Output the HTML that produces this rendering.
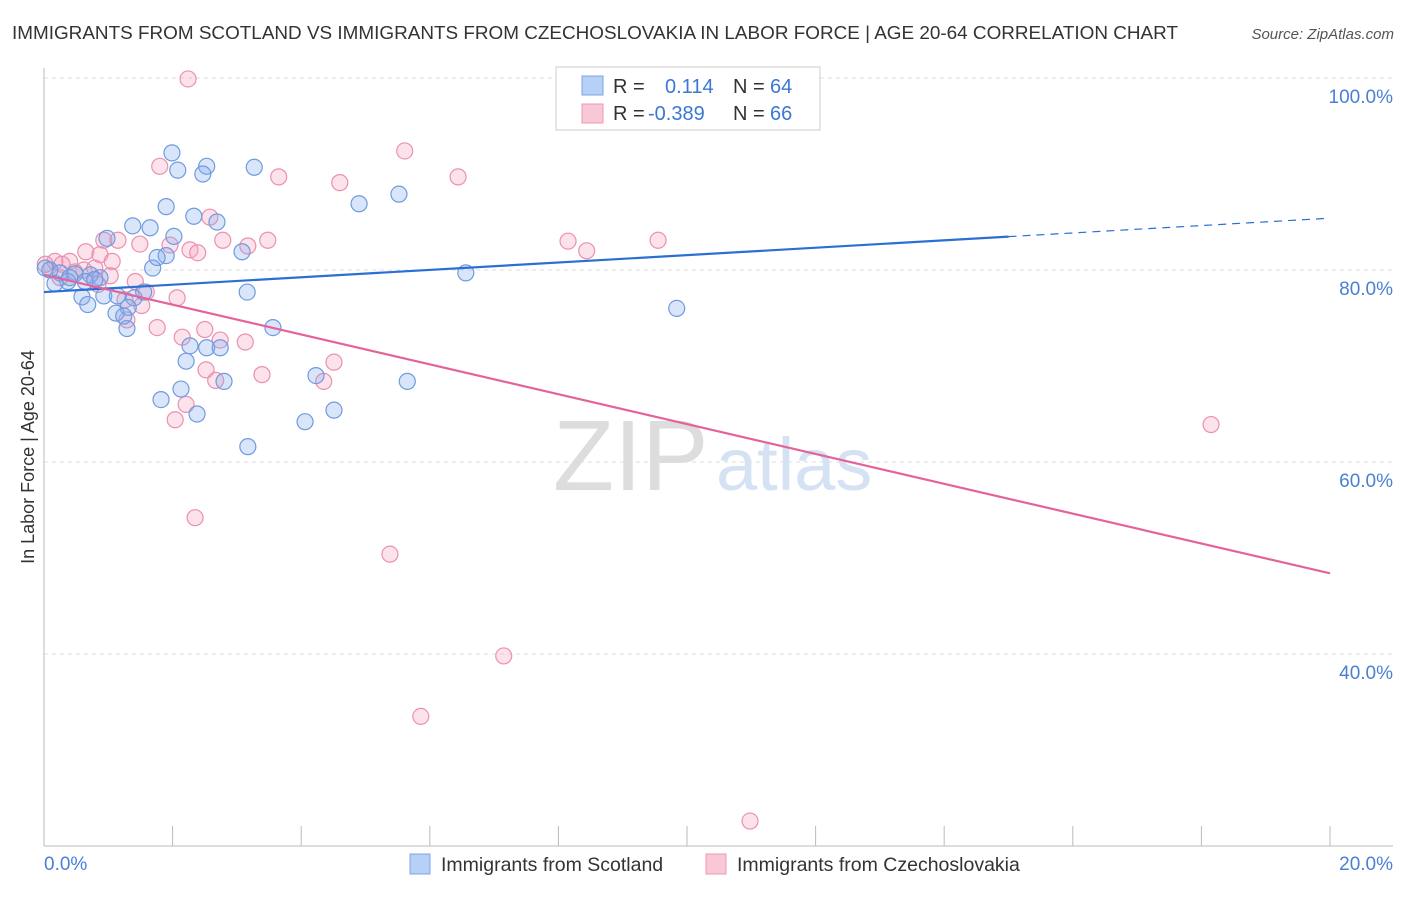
<!DOCTYPE html>
<html><head><meta charset="utf-8"><style>
body{margin:0;background:#fff;font-family:"Liberation Sans",sans-serif}
svg text{font-family:"Liberation Sans",sans-serif}
</style></head><body>
<svg width="1406" height="892" viewBox="0 0 1406 892" xmlns="http://www.w3.org/2000/svg">
<text x="12" y="39" font-size="18.5" fill="#333" textLength="1166" lengthAdjust="spacingAndGlyphs">IMMIGRANTS FROM SCOTLAND VS IMMIGRANTS FROM CZECHOSLOVAKIA IN LABOR FORCE | AGE 20-64 CORRELATION CHART</text>
<text x="1394" y="39" font-size="15" fill="#555" text-anchor="end" font-style="italic">Source: ZipAtlas.com</text>
<g id="grid"></g>
<text x="553" y="490" font-size="100" fill="#ddd" font-family="Liberation Serif">ZIP</text>
<text x="716" y="490" font-size="74" fill="#d4e2f4">atlas</text>
<g id="marks"></g>
<text transform="translate(34,457) rotate(-90)" font-size="18" fill="#333" text-anchor="middle">In Labor Force | Age 20-64</text>
<text x="44" y="870" font-size="19" fill="#4a7fd4">0.0%</text>
<text x="1393" y="870" font-size="19" fill="#4a7fd4" text-anchor="end">20.0%</text>
<g>
<rect x="556" y="67" width="264" height="63" fill="#fff" stroke="#ccc"/>
<rect x="582" y="76" width="21" height="19" fill="#b7d0f5" stroke="#7aa5e6"/>
<rect x="582" y="104" width="21" height="19" fill="#f9c8d6" stroke="#ee9ab2"/>
<text x="613" y="93" font-size="20" fill="#333">R =</text>
<text x="665" y="93" font-size="20" fill="#3a78d4">0.114</text>
<text x="733" y="93" font-size="20" fill="#333">N =</text>
<text x="770" y="93" font-size="20" fill="#3a78d4">64</text>
<text x="613" y="120" font-size="20" fill="#333">R =</text>
<text x="648" y="120" font-size="20" fill="#3a78d4">-0.389</text>
<text x="733" y="120" font-size="20" fill="#333">N =</text>
<text x="770" y="120" font-size="20" fill="#3a78d4">66</text>
</g>
<g>
<rect x="410" y="854" width="20" height="20" fill="#b7d0f5" stroke="#7aa5e6"/>
<text x="441" y="871" font-size="19.5" fill="#333">Immigrants from Scotland</text>
<rect x="706" y="854" width="20" height="20" fill="#f9c8d6" stroke="#ee9ab2"/>
<text x="737" y="871" font-size="19.5" fill="#333">Immigrants from Czechoslovakia</text>
</g>
</svg>
<script>
const blueX=[11.94,1.99,2.53,2.08,2.47,3.27,5.52,4.9,1.9,2.33,2.69,1.38,1.65,0.98,2.02,3.08,1.9,1.76,1.69,6.56,0.09,0.25,0.48,0.72,0.87,0.37,0.64,3.16,0.93,0.59,1.14,1.4,1.55,0.68,1.31,1.12,1.24,9.84,1.29,3.56,2.27,2.53,2.74,2.21,4.23,2.8,5.65,2.13,1.82,4.51,2.38,4.06,3.17,0.17,0.02,0.79,0.4];
const blueY=[99.9,92.2,90.8,90.4,90.0,90.7,87.9,86.9,86.6,85.6,85.0,84.6,84.4,83.3,83.5,81.9,81.5,81.3,80.2,79.7,80,79.7,79.6,79.5,79.2,78.8,78.8,77.7,77.3,77.2,77.3,77.1,77.7,76.4,76.1,75.5,75.2,76.0,73.9,74.0,72.1,71.9,71.9,70.5,69.0,68.4,68.4,67.6,66.5,65.4,65.0,64.2,61.6,78.6,80.2,79.0,79.2];
const pinkX=[2.24,5.61,1.8,3.65,4.6,6.44,2.58,2.78,3.48,8.15,8.44,9.55,1.96,2.27,2.39,3.17,1.49,1.15,0.93,0.65,0.87,1.06,0.4,0.17,0.28,0.02,0.62,1.03,1.42,0.84,1.59,2.07,1.26,1.52,1.29,1.76,2.5,2.15,2.74,3.13,2.52,3.39,4.51,4.35,2.67,2.21,2.04,18.15,2.35,5.38,7.15,5.86,10.98,0.25,0.48,0.79];
const pinkY=[99.9,92.4,90.8,89.7,89.1,89.7,85.5,83.1,83.1,83.0,82.0,83.1,82.6,82.1,81.8,82.5,82.7,83.1,83.1,81.9,81.6,80.9,80.9,80.9,80.6,80.6,80.0,79.4,78.8,78.5,77.7,77.1,76.9,76.3,74.8,74.0,73.8,73.0,72.7,72.5,69.6,69.1,70.4,68.4,68.5,66.0,64.4,63.9,54.2,50.4,39.8,33.5,22.6,79.2,79.8,80.2];
const blueTrend=[77.7,0.385]; // intercept, slope
const pinkTrend=[79.5,-1.555];
const yTicks=[100,80,60,40];
const sx=v=>44+v*64.3, sy=v=>846-(v-20)*9.6;
const NS="http://www.w3.org/2000/svg";
function mk(p,t,a){const e=document.createElementNS(NS,t);for(const k in a)e.setAttribute(k,a[k]);p.appendChild(e);return e;}
const g=document.getElementById('grid'), m=document.getElementById('marks');
yTicks.forEach(t=>{
 const l=mk(g,'line',{x1:44,x2:1393,y1:sy(t),y2:sy(t),stroke:'#ddd','stroke-dasharray':'4,4'});
 
 
 const tx=mk(g,'text',{x:1393,y:sy(t)+25,'font-size':19,fill:'#4a7fd4','text-anchor':'end'});
 tx.textContent=t.toFixed(1)+'%';
 
 
});
const ax=mk(g,'line',{x1:44,x2:44,y1:68,y2:846,stroke:'#bbb'});


const bx=mk(g,'line',{x1:44,x2:1393,y1:846,y2:846,stroke:'#bbb'});


for(let i=0;i<=20;i+=2){const t=mk(g,'line',{x1:sx(i),x2:sx(i),y1:826,y2:846,stroke:'#bbb'});
 
 }
pinkX.forEach((x,i)=>{const c=mk(m,'circle',{cx:sx(x),cy:sy(pinkY[i]),r:8,fill:'rgba(244,160,190,0.3)',stroke:'#eb90b0','stroke-width':1.2});
 
 });
blueX.forEach((x,i)=>{const c=mk(m,'circle',{cx:sx(x),cy:sy(blueY[i]),r:8,fill:'rgba(130,170,235,0.3)',stroke:'#6f9be0','stroke-width':1.2});
 
 });
const b1=mk(m,'line',{x1:sx(0),y1:sy(blueTrend[0]),x2:sx(15),y2:sy(blueTrend[0]+15*blueTrend[1]),stroke:'#2a6fd4','stroke-width':2.2});


const b2=mk(m,'line',{x1:sx(15),y1:sy(blueTrend[0]+15*blueTrend[1]),x2:sx(20),y2:sy(blueTrend[0]+20*blueTrend[1]),stroke:'#2a6fd4','stroke-width':1.2,'stroke-dasharray':'8,6'});


const p1=mk(m,'line',{x1:sx(0),y1:sy(pinkTrend[0]),x2:sx(20),y2:sy(pinkTrend[0]+20*pinkTrend[1]),stroke:'#e4639a','stroke-width':2.2});


</script>
</body></html>
